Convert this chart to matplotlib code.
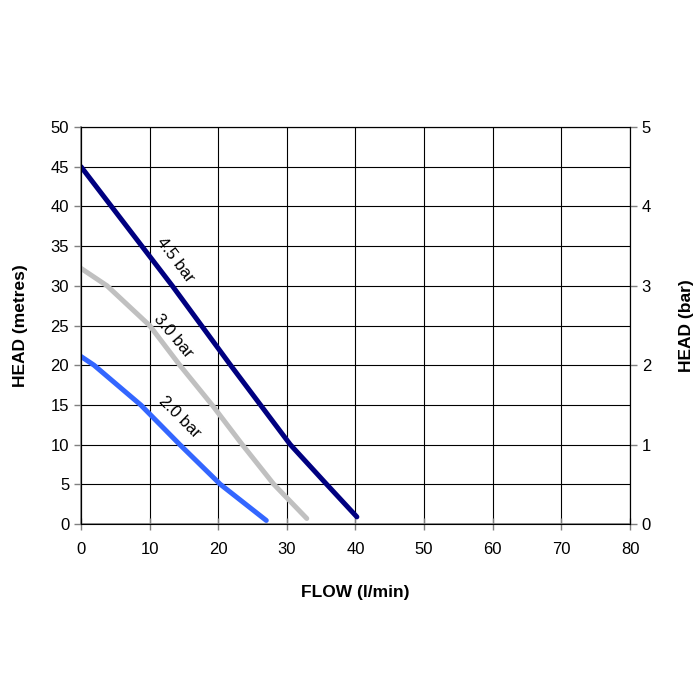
import matplotlib
matplotlib.use("Agg")
import matplotlib.pyplot as plt

plt.rcParams['font.family'] = ['Liberation Sans', 'DejaVu Sans']

flow_45 = [0, 13.3, 21.8, 30.5, 35.8, 40.2]
head_45 = [45, 30, 20, 10, 5, 0.9]
flow_30 = [0, 3.8, 10, 14.4, 19.1, 23.5, 28.1, 32.9]
head_30 = [32.2, 30, 25, 20, 15, 10, 5, 0.7]
flow_20 = [0, 1.9, 8.7, 14.4, 20.3, 27.0]
head_20 = [21.1, 20, 15, 10, 5, 0.45]

x_ticks = [0, 10, 20, 30, 40, 50, 60, 70, 80]
y_ticks = [0, 5, 10, 15, 20, 25, 30, 35, 40, 45, 50]
bar_ticks = [0, 1, 2, 3, 4, 5]

fig = plt.figure(figsize=(7, 7), dpi=100)
ax = fig.add_axes([0.1157, 0.2514, 0.7843, 0.5672])

ax.plot(flow_45, head_45, color='#000080', lw=3.6, solid_capstyle='round', solid_joinstyle='round', zorder=3)
ax.plot(flow_30, head_30, color='#C0C0C0', lw=3.6, solid_capstyle='round', solid_joinstyle='round', zorder=3)
ax.plot(flow_20, head_20, color='#3366FF', lw=3.6, solid_capstyle='round', solid_joinstyle='round', zorder=3)

ax.text(13.7, 33.3, '4.5 bar', rotation=-53, ha='center', va='center', fontsize=12, rotation_mode='anchor')
ax.text(13.4, 23.7, '3.0 bar', rotation=-50, ha='center', va='center', fontsize=12, rotation_mode='anchor')
ax.text(14.3, 13.4, '2.0 bar', rotation=-45, ha='center', va='center', fontsize=12, rotation_mode='anchor')

ax.set_xlim(0, 80)
ax.set_ylim(0, 50)
ax.set_xticks(x_ticks)
ax.set_yticks(y_ticks)
ax.grid(True, color='black', lw=0.8)
ax.set_axisbelow(True)
for s in ['left', 'bottom']:
    ax.spines[s].set_color('#808080')
    ax.spines[s].set_linewidth(1.2)
ax.spines['top'].set_color('black')
ax.spines['top'].set_linewidth(0.8)
ax.spines['right'].set_color('black')
ax.tick_params(axis='both', labelsize=12, length=5, color='#808080', width=1)
ax.tick_params(axis='x', direction='inout', length=8, pad=9)
ax.set_xlabel('FLOW (l/min)', fontsize=12.5, fontweight='bold', labelpad=20)
ax.set_ylabel('HEAD (metres)', fontsize=12.5, fontweight='bold', labelpad=16)

ax2 = ax.twinx()
ax2.set_ylim(0, 5)
ax2.set_yticks(bar_ticks)
ax2.tick_params(axis='y', labelsize=12, length=5, color='#808080', width=1)
ax2.spines['right'].set_color('black')
ax2.set_ylabel('HEAD (bar)', fontsize=12.5, fontweight='bold', labelpad=20)

fig.savefig('out.png', dpi=100)
